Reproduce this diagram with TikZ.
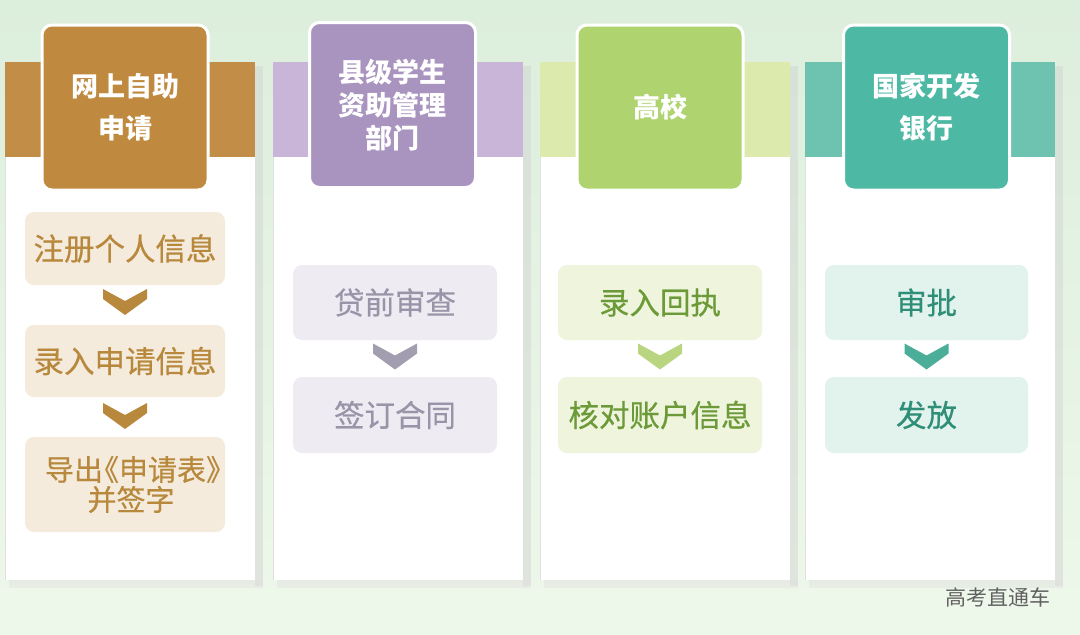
\documentclass[tikz,border=0pt]{standalone}
\usepackage{fontspec}
\newfontfamily\cjk{Noto Sans CJK SC}
\newfontfamily\cjkm{Noto Sans CJK SC}[FakeBold=0.5]
\usetikzlibrary{calc}
\definecolor{bgtop}{HTML}{DCEEDC}
\definecolor{bgbot}{HTML}{EEF8EA}
\definecolor{hA}{HTML}{BF8A3F}\definecolor{bA}{HTML}{C28D46}\definecolor{sA}{HTML}{F4EBDC}\definecolor{tA}{HTML}{B8883C}
\definecolor{hB}{HTML}{A994BF}\definecolor{bB}{HTML}{C8B5D8}\definecolor{sB}{HTML}{EEEBF2}\definecolor{tB}{HTML}{9A94A8}\definecolor{cB}{HTML}{A39DB0}
\definecolor{hC}{HTML}{AFD46F}\definecolor{bC}{HTML}{DCEAAE}\definecolor{sC}{HTML}{EEF5DC}\definecolor{tC}{HTML}{6C9A38}\definecolor{cC}{HTML}{B9D57F}
\definecolor{hD}{HTML}{4DB8A4}\definecolor{bD}{HTML}{6DC3AF}\definecolor{sD}{HTML}{E2F2EC}\definecolor{tD}{HTML}{2E8E77}\definecolor{cD}{HTML}{4BAE98}
\tikzset{
  header/.style={draw=white, line width=3pt, rounded corners=10pt, minimum width=166pt, minimum height=165pt,
    text=white, align=center, font=\cjk\bfseries\fontsize{27}{42}\selectfont, inner sep=0pt},
  stepbox/.style={rounded corners=9pt, minimum width=#1, minimum height=75pt, inner sep=0pt, align=center,
    font=\cjkm\fontsize{30.5}{30}\selectfont},
  stepbox/.default=204pt,
}
\newcommand{\chev}[2]{% #1 coordinate, #2 colour
  \fill[#2] ($(#1)+(-22,-13)$) -- ($(#1)+(0,-1)$) -- ($(#1)+(22,-13)$) -- ($(#1)+(22,-3)$) -- ($(#1)+(0,13)$) -- ($(#1)+(-22,-3)$) -- cycle;}
\newcommand{\panel}[2]{% #1 left x, #2 band colour
  \fill[black!18, opacity=0.45] (#1+250,66) rectangle (#1+258,586);
  \fill[black!12, opacity=0.45] (#1+4,580) rectangle (#1+258,588);
  \fill[white] (#1,62) rectangle (#1+250,580);
  \draw[black!12, line width=0.6pt] (#1,157) -- (#1,580);
  \fill[#2] (#1,62) rectangle (#1+250,157);}
\begin{document}
\begin{tikzpicture}[x=1pt,y=-1pt]
\useasboundingbox (0,0) rectangle (1080,635);
\shade[top color=bgtop, bottom color=bgbot] (0,0) rectangle (1080,635);
\fill[bgbot] (0,590) rectangle (1080,635);
% panels
\panel{5}{bA}
\panel{273}{bB}
\panel{540}{bC}
\panel{805}{bD}
% headers
\node[header, fill=hA] (hA) at (125,107.5) {网上自助\\申请};
\node[header, fill=hB, font=\cjk\bfseries\fontsize{27}{33}\selectfont] (hB) at (392.5,105) {县级学生\\资助管理\\部门};
\node[header, fill=hC] (hC) at (660,107.5) {高校};
\node[header, fill=hD] (hD) at (926.5,107.5) {国家开发\\银行};
% column 1
\node[stepbox=200pt, fill=sA, text=tA, minimum height=73pt] (a1) at (125,248.5) {注册个人信息};
\node[stepbox=200pt, fill=sA, text=tA, minimum height=72pt] (a2) at (125,361) {录入申请信息};
\node[stepbox=200pt, fill=sA, text=tA, minimum height=95pt, font=\cjkm\fontsize{29}{30}\selectfont] (a3) at (125,484.5)
  {\hspace*{16pt}导出\hspace{-13pt}《申请表》\hspace*{-14pt}\\\hspace*{12pt}并签字};
\coordinate (ma1) at ($(a1.south)!0.5!(a2.north)+(0,-3)$);
\coordinate (ma2) at ($(a2.south)!0.5!(a3.north)+(0,-1)$);
\chev{ma1}{tA}
\chev{ma2}{tA}
% column 2
\node[stepbox, fill=sB, text=tB] (b1) at (395,302.5) {贷前审查};
\node[stepbox, fill=sB, text=tB, minimum height=76pt] (b2) at (395,415) {签订合同};
\coordinate (mb) at ($(b1.south)!0.5!(b2.north)+(0,-2)$);
\chev{mb}{cB}
% column 3
\node[stepbox, fill=sC, text=tC] (c1) at (660,302.5) {录入回执};
\node[stepbox, fill=sC, text=tC, minimum height=76pt] (c2) at (660,415) {核对账户信息};
\coordinate (mc) at ($(c1.south)!0.5!(c2.north)+(0,-2)$);
\chev{mc}{cC}
% column 4
\node[stepbox=203pt, fill=sD, text=tD] (d1) at (926.5,302.5) {审批};
\node[stepbox=203pt, fill=sD, text=tD, minimum height=76pt] (d2) at (926.5,415) {发放};
\coordinate (md) at ($(d1.south)!0.5!(d2.north)+(0,-2)$);
\chev{md}{cD}
% watermark
\node[font=\cjk\fontsize{21}{21}\selectfont, text=black!62, anchor=east, inner sep=0pt] (wm) at (1051,597) {高考直通车};
\end{tikzpicture}
\end{document}
